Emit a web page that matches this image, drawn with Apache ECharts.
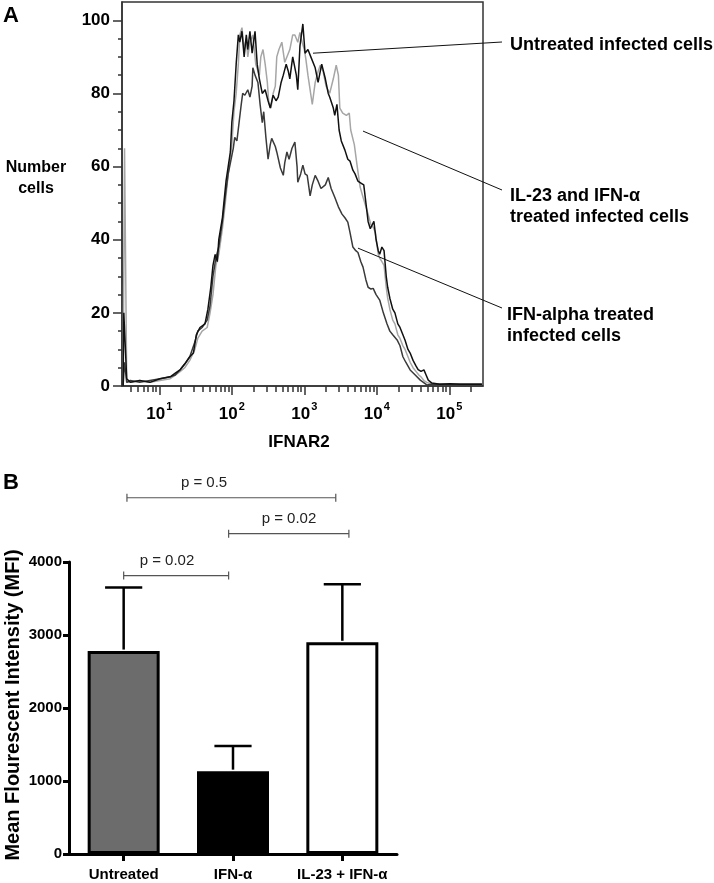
<!DOCTYPE html>
<html><head><meta charset="utf-8">
<script src="https://cdn.jsdelivr.net/npm/echarts@6/dist/echarts.min.js"></script>
<style>html,body{margin:0;padding:0;background:#fff}#c{width:714px;height:883px}</style>
</head><body><div id="c"></div>
<script>
// ---------- Panel A: IFNAR2 histograms (x = log10 fluorescence, y = number of cells) ----------
var untreated = [[0.50,0],[0.51,20],[0.53,20],[0.55,2],[0.60,1],[0.73,1.5],[0.87,1],[1.01,2],[1.15,2.5],[1.22,3.5],[1.29,4.5],[1.35,6],[1.42,8],[1.47,9],[1.51,14],[1.56,16],[1.63,17],[1.67,21],[1.71,27],[1.74,33],[1.77,36],[1.80,34],[1.82,40],[1.87,46],[1.89,50],[1.92,56],[1.95,60],[1.98,64],[2.00,72],[2.03,78],[2.06,88],[2.09,96],[2.11,94],[2.14,97],[2.17,90],[2.20,96],[2.22,92],[2.25,97],[2.28,91],[2.32,97],[2.35,88],[2.38,84],[2.42,80],[2.46,81],[2.50,78],[2.53,76],[2.57,79.5],[2.61,78],[2.64,79],[2.68,83],[2.71,85],[2.75,88],[2.78,86],[2.80,84],[2.84,90],[2.89,85],[2.91,81],[2.94,93],[2.98,99],[3.01,91],[3.05,92],[3.09,90],[3.15,87],[3.19,83],[3.24,88],[3.29,84],[3.33,80],[3.35,79],[3.40,76],[3.42,74],[3.45,77],[3.48,70],[3.51,67],[3.56,64.5],[3.60,62],[3.63,61.5],[3.67,59],[3.70,58],[3.74,56],[3.78,55.5],[3.82,55],[3.85,50],[3.88,45],[3.91,43],[3.93,43.5],[3.96,45],[3.99,40],[4.02,37],[4.04,36],[4.07,38],[4.10,37],[4.13,30],[4.15,27],[4.18,24],[4.22,21],[4.25,20],[4.29,17],[4.32,16],[4.36,14],[4.39,12.5],[4.43,10],[4.46,9],[4.50,7],[4.54,5.5],[4.57,4.5],[4.61,4],[4.65,4.4],[4.68,3],[4.71,1.6],[4.76,0.8],[4.87,0.5],[5.01,0.6],[5.15,0.5],[5.29,0.5],[5.45,0.5]];
var il23IfnA = [[0.50,0],[0.52,65],[0.53,65],[0.55,1],[0.60,1],[0.73,1.5],[0.87,1],[1.01,1.5],[1.15,2],[1.22,3],[1.29,4],[1.35,5],[1.42,7],[1.49,10],[1.53,13],[1.59,15],[1.66,16],[1.70,20],[1.74,25],[1.78,33],[1.82,36],[1.87,43],[1.91,50],[1.95,58],[1.98,63],[2.00,66],[2.03,75],[2.06,80],[2.09,88],[2.11,96],[2.14,98],[2.17,92],[2.20,95],[2.22,90],[2.25,94],[2.29,96],[2.33,88],[2.38,85],[2.40,90],[2.43,92],[2.46,88],[2.49,83],[2.51,77.5],[2.54,76],[2.57,80],[2.60,82],[2.62,90],[2.65,92],[2.69,94],[2.73,88.5],[2.78,91],[2.80,92],[2.84,96],[2.87,96],[2.91,94],[2.94,96.7],[2.97,94],[3.00,92],[3.02,89.6],[3.05,85],[3.08,81],[3.11,77],[3.15,83],[3.19,86],[3.22,87.7],[3.26,86],[3.30,82],[3.35,80],[3.40,84],[3.44,87.7],[3.47,85],[3.49,76],[3.53,74.6],[3.58,74],[3.62,74.6],[3.64,70],[3.69,66],[3.73,60],[3.77,54.4],[3.81,51.6],[3.85,49],[3.88,47],[3.92,44],[3.95,43.4],[3.98,42],[4.02,36],[4.04,35],[4.07,34],[4.10,33],[4.13,27],[4.15,24],[4.18,21],[4.22,18],[4.25,17],[4.29,14],[4.32,13],[4.36,11],[4.39,10],[4.43,8],[4.46,6.5],[4.50,5],[4.54,4],[4.58,3],[4.61,2.5],[4.65,1.5],[4.69,1],[4.76,0.5],[4.87,0.5],[5.45,0.5]];
var ifnAlpha = [[0.50,0],[0.52,6.5],[0.53,6.5],[0.55,1],[0.60,1.5],[0.73,1],[0.87,1.5],[1.01,2],[1.15,2.5],[1.22,3],[1.29,4.5],[1.35,6],[1.42,8],[1.49,12],[1.53,15],[1.59,16],[1.66,18],[1.70,22],[1.74,30],[1.78,35],[1.82,38],[1.87,45],[1.91,52],[1.95,58],[1.99,62],[2.02,65],[2.04,68],[2.07,67],[2.10,72],[2.13,77],[2.15,80],[2.18,79.5],[2.22,81],[2.25,79],[2.28,82],[2.29,87],[2.32,85],[2.36,83],[2.39,77],[2.42,72],[2.44,75],[2.47,68],[2.50,62],[2.53,66],[2.55,67.7],[2.60,65.5],[2.62,64],[2.67,59.6],[2.71,57.6],[2.73,61],[2.76,64],[2.79,62],[2.83,65],[2.87,66.7],[2.90,60],[2.91,55.7],[2.95,58],[2.98,60.4],[3.01,58],[3.04,57.6],[3.08,52],[3.11,55],[3.15,57.6],[3.19,56],[3.23,54],[3.29,55],[3.33,57],[3.37,54],[3.42,51.6],[3.47,49],[3.52,47],[3.56,46],[3.60,44.8],[3.63,42],[3.67,38],[3.71,37],[3.74,36.5],[3.78,34],[3.81,32.5],[3.85,29],[3.88,27],[3.92,26.5],[3.95,26.7],[3.99,25],[4.04,23.5],[4.09,20],[4.14,17],[4.18,15],[4.22,14],[4.28,12.6],[4.32,11],[4.36,8],[4.40,6.5],[4.46,4.4],[4.53,3],[4.60,1.6],[4.69,0.3],[4.76,0.5],[5.45,0.5]];
var xDecades = [1, 2, 3, 4, 5];           // tick labels 10^1 .. 10^5
var yTicksA = [0, 20, 40, 60, 80, 100];
// annotation anchors on the curves [log10 x, count]
var annoNames = ['Untreated infected cells', 'IL-23 and IFN-\u03b1\ntreated infected cells', 'IFN-alpha treated\ninfected cells'];
var annoAnchors = [[3.12, 91], [3.81, 69.7], [3.74, 37.7]];

// ---------- Panel B: MFI bars ----------
var categories = ['Untreated', 'IFN-\u03b1', 'IL-23 + IFN-\u03b1'];
var mfiMean = [2780, 1135, 2900];
var mfiErr = [870, 345, 795];
var pLabels = ['p = 0.5', 'p = 0.02', 'p = 0.02'];
var bracketFrom = [0.03, 0.96, 0.0];
var bracketTo = [1.94, 2.06, 0.96];
var bracketLevel = [4880, 4388, 3814];
var pTextX = [0.735, 1.512, 0.396];

var FA = "'Liberation Sans', Arial, sans-serif";

var minorX = [];
for (var d = 0; d <= 5; d++) for (var k = 2; k <= 9; k++) { var v = d + Math.log10(k); if (v > 0.49 && v < 5.46) minorX.push(v); }
var minorY = [];
for (var y = 5; y < 105; y += 5) if (y % 20 !== 0) minorY.push(y);

var chart = echarts.init(document.getElementById('c'), null, {renderer: 'canvas'});
var axisCol = '#333';
var option = {
  animation: false,
  backgroundColor: '#fff',
  grid: [
    {left: 122, right: 231, top: 2, bottom: 497, show: true, borderColor: axisCol, borderWidth: 1.5, outerBoundsMode: 'none', containLabel: false},
    {left: 69, right: 317, top: 562, bottom: 29, outerBoundsMode: 'none', containLabel: false}
  ],
  xAxis: [
    {gridIndex: 0, type: 'value', position: 'bottom', min: 0.485, max: 5.465,
     axisLine: {show: true, onZero: false, lineStyle: {color: axisCol, width: 1.5}},
     axisTick: {show: true, customValues: xDecades, length: 9, lineStyle: {color: axisCol, width: 1.5}},
     axisLabel: {show: true, customValues: xDecades, margin: 15,
       formatter: function (v) { return '{b|10}{s|' + v + '}'; },
       rich: {b: {fontFamily: FA, fontWeight: 'bold', fontSize: 17, color: '#000', lineHeight: 22, verticalAlign: 'bottom'},
              s: {fontFamily: FA, fontWeight: 'bold', fontSize: 11, color: '#000', lineHeight: 12, verticalAlign: 'top', padding: [0, 0, 0, 1]}}},
     splitLine: {show: false}},
    {gridIndex: 0, type: 'value', position: 'bottom', min: 0.485, max: 5.465,
     axisLine: {show: false, onZero: false}, axisLabel: {show: false}, splitLine: {show: false},
     axisTick: {show: true, customValues: minorX, length: 6, lineStyle: {color: axisCol, width: 1.5}}},
    {gridIndex: 1, type: 'category', position: 'bottom', data: categories,
     axisLine: {show: true, onZero: false, lineStyle: {color: '#000', width: 3}},
     axisTick: {show: true, alignWithLabel: true, length: 7, lineStyle: {color: '#000', width: 3}},
     axisLabel: {interval: 0, fontFamily: FA, fontWeight: 'bold', fontSize: 15, color: '#000', margin: 13}},
    {gridIndex: 1, type: 'value', position: 'top', min: -0.5, max: 2.5, show: false, axisLine: {onZero: false}}
  ],
  yAxis: [
    {gridIndex: 0, type: 'value', position: 'left', min: 0, max: 105,
     axisLine: {show: true, onZero: false, lineStyle: {color: axisCol, width: 1.5}},
     axisTick: {show: true, customValues: yTicksA, length: 9, lineStyle: {color: axisCol, width: 1.5}},
     axisLabel: {show: true, customValues: yTicksA, margin: 12, fontFamily: FA, fontWeight: 'bold', fontSize: 17, color: '#000'},
     splitLine: {show: false}},
    {gridIndex: 0, type: 'value', position: 'left', min: 0, max: 105,
     axisLine: {show: false, onZero: false}, axisLabel: {show: false}, splitLine: {show: false},
     axisTick: {show: true, customValues: minorY, length: 4, lineStyle: {color: axisCol, width: 1.5}}},
    {gridIndex: 1, type: 'value', position: 'left', min: 0, max: 4000, interval: 1000,
     axisLine: {show: true, onZero: false, lineStyle: {color: '#000', width: 3}},
     axisTick: {show: true, length: 6, lineStyle: {color: '#000', width: 3}},
     axisLabel: {formatter: function (v) { return String(v); }, fontFamily: FA, fontWeight: 'bold', fontSize: 15, color: '#000', margin: 7},
     splitLine: {show: false}}
  ],
  series: [
    {type: 'line', name: 'IL-23 and IFN-\u03b1', xAxisIndex: 0, yAxisIndex: 0, data: il23IfnA, showSymbol: false, symbol: 'none',
     lineStyle: {color: '#a6a6a6', width: 1.5}, z: 2},
    {type: 'line', name: 'IFN-alpha', xAxisIndex: 0, yAxisIndex: 0, data: ifnAlpha, showSymbol: false, symbol: 'none',
     lineStyle: {color: '#3a3a3a', width: 1.5}, z: 3},
    {type: 'line', name: 'Untreated', xAxisIndex: 0, yAxisIndex: 0, data: untreated, showSymbol: false, symbol: 'none',
     lineStyle: {color: '#111', width: 1.5}, z: 4},
    {type: 'bar', xAxisIndex: 2, yAxisIndex: 2, barWidth: 72,
     data: mfiMean.map(function (m, i) {
       var fills = ['#6c6c6c', '#000', '#fff'];
       return {value: m, itemStyle: {color: fills[i], borderColor: '#000', borderWidth: 3}};
     }), z: 3},
    {type: 'custom', xAxisIndex: 2, yAxisIndex: 2, clip: false, z: 4,
     data: mfiMean.map(function (m, i) { return [i, m, mfiErr[i]]; }),
     encode: {x: 0, y: 1},
     renderItem: function (params, api) {
       var x = api.value(0), m = api.value(1), e = api.value(2);
       var p0 = api.coord([x, m]), p1 = api.coord([x, m + e]);
       var hw = api.size([1, 0])[0] * 0.17;
       var st = {stroke: '#000', lineWidth: 2.5};
       return {type: 'group', children: [
         {type: 'line', shape: {x1: p0[0], y1: p0[1] - 1.5, x2: p1[0], y2: p1[1]}, style: st},
         {type: 'line', shape: {x1: p1[0] - hw, y1: p1[1], x2: p1[0] + hw, y2: p1[1]}, style: st}
       ]};
     }},
    {type: 'custom', xAxisIndex: 3, yAxisIndex: 2, clip: false, z: 4,
     data: pLabels.map(function (l, i) { return [bracketFrom[i], bracketTo[i], bracketLevel[i], pTextX[i]]; }),
     encode: {x: [0, 1, 3], y: 2},
     renderItem: function (params, api) {
       var i = params.dataIndex;
       var a = api.coord([api.value(0), api.value(2)]);
       var b = api.coord([api.value(1), api.value(2)]);
       var t = api.coord([api.value(3), api.value(2)]);
       var st = {stroke: '#555', lineWidth: 1.2};
       return {type: 'group', children: [
         {type: 'line', shape: {x1: a[0], y1: a[1], x2: b[0], y2: b[1]}, style: st},
         {type: 'line', shape: {x1: a[0], y1: a[1] - 4, x2: a[0], y2: a[1] + 4}, style: st},
         {type: 'line', shape: {x1: b[0], y1: b[1] - 4, x2: b[0], y2: b[1] + 4}, style: st},
         {type: 'text', style: {text: pLabels[i], x: t[0], y: a[1] - 7, align: 'center', verticalAlign: 'bottom',
           font: '15px ' + FA, fill: '#222'}}
       ]};
     }}
  ]
};
chart.setOption(option);

// annotations & static texts
var labelPos = [[510, 45], [510, 207], [507, 326]];
var lineEnds = [[502, 42], [502, 190], [502, 308]];
var g = [];
annoAnchors.forEach(function (a, i) {
  var p = chart.convertToPixel({xAxisIndex: 0, yAxisIndex: 0}, a);
  g.push({type: 'line', shape: {x1: p[0], y1: p[1], x2: lineEnds[i][0], y2: lineEnds[i][1]}, style: {stroke: '#111', lineWidth: 1}, z: 10});
  g.push({type: 'text', x: labelPos[i][0], y: labelPos[i][1], style: {text: annoNames[i], font: 'bold 18px ' + FA, fill: '#000',
    align: 'left', verticalAlign: 'middle', lineHeight: 21}, z: 10});
});
g.push({type: 'text', x: 3, y: 5, style: {text: 'A', font: 'bold 22px ' + FA, fill: '#000', align: 'left', verticalAlign: 'top'}});
g.push({type: 'text', x: 3, y: 472, style: {text: 'B', font: 'bold 22px ' + FA, fill: '#000', align: 'left', verticalAlign: 'top'}});
g.push({type: 'text', x: 36, y: 178, style: {text: 'Number\ncells', font: 'bold 16px ' + FA, fill: '#000', align: 'center', verticalAlign: 'middle', lineHeight: 21}});
g.push({type: 'text', x: 299, y: 442, style: {text: 'IFNAR2', font: 'bold 17px ' + FA, fill: '#000', align: 'center', verticalAlign: 'middle'}});
g.push({type: 'text', x: 13, y: 705, rotation: Math.PI / 2, style: {text: 'Mean Flourescent Intensity (MFI)', font: 'bold 20px ' + FA, fill: '#000', align: 'center', verticalAlign: 'middle'}});
chart.setOption({graphic: g});
</script></body></html>
